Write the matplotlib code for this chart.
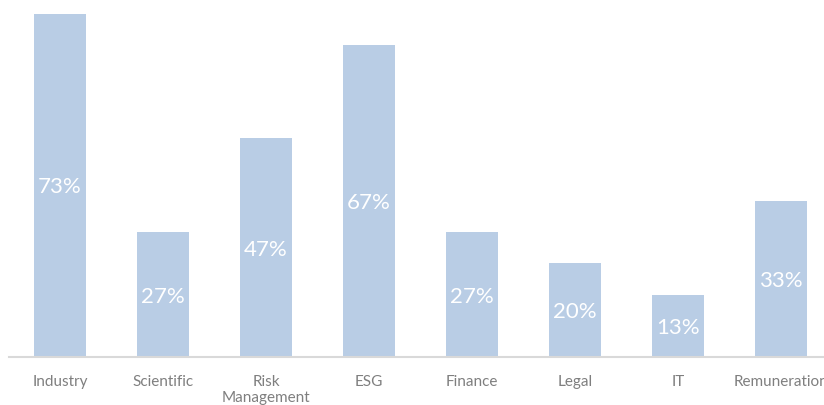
import matplotlib.pyplot as plt

categories = ["Industry", "Scientific", "Risk\nManagement", "ESG",
              "Finance", "Legal", "IT", "Remuneration"]
values = [73.3, 26.7, 46.7, 66.7, 26.7, 20.0, 13.3, 33.3]

plt.rcParams['font.family'] = ['Lato', 'DejaVu Sans']

fig = plt.figure(figsize=(8.24, 4.05), dpi=100)
# axes runs a bit past the right edge so the last label gets clipped like the original
ax = fig.add_axes([8.5 / 824, 48 / 405, 824 / 824, 355.7 / 405])

x = range(len(categories))
bars = ax.bar(x, values, width=0.5, color="#B9CDE5")

for b, v in zip(bars, values):
    ax.text(b.get_x() + b.get_width() / 2, v / 2, f"{v:.0f}%",
            ha="center", va="center_baseline", color="white", fontsize=16)

ax.set_xlim(-0.5, len(categories) - 0.5)
ax.set_ylim(0, 76)
ax.set_xticks(list(x))
ax.set_xticklabels(categories, color="#7F7F7F", fontsize=11, linespacing=1.15)
ax.tick_params(axis="x", length=0, pad=13)
ax.set_yticks([])

for side in ["top", "right", "left"]:
    ax.spines[side].set_visible(False)
ax.spines["bottom"].set_color("#D9D9D9")
ax.spines["bottom"].set_linewidth(1.5)

fig.savefig("out.png", dpi=100)
